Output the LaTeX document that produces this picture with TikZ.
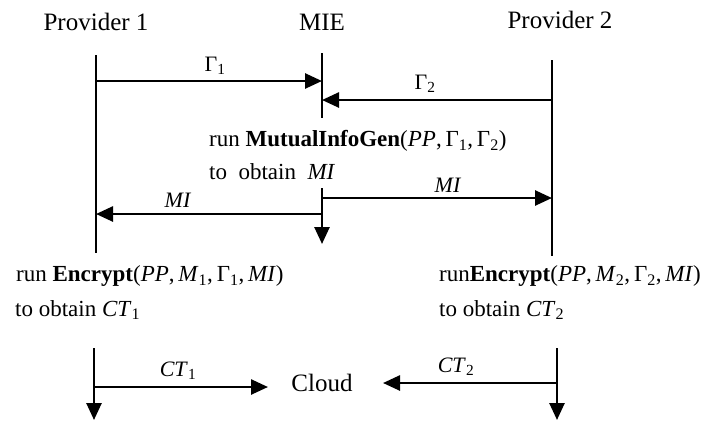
\documentclass[tikz,border=0pt]{standalone}
\usepackage{fontspec}
\setmainfont{Liberation Serif}
\usetikzlibrary{arrows.meta}
\newcommand{\sbs}[1]{\textsubscript{#1}}
\begin{document}
\begin{tikzpicture}[x=1pt,y=-1pt,
  lifeline/.style={line width=2.6pt},
  msg/.style={line width=2.6pt,-{Triangle[length=17pt,width=15pt]}},
  hdr/.style={font=\fontsize{25}{29}\selectfont,inner sep=0pt},
  lbl/.style={font=\fontsize{22}{26}\selectfont,inner sep=0pt},
  txt/.style={font=\fontsize{23}{27}\selectfont,inner sep=0pt,anchor=west}]
\useasboundingbox (0,0) rectangle (707,421);
% headers
\node[hdr] (p1) at (96,22) {Provider 1};
\node[hdr] (mie) at (322,22) {MIE};
\node[hdr] (p2) at (560,20) {Provider 2};
% lifelines
\coordinate (p1top) at (96,55);
\coordinate (p1bot) at (96,253);
\coordinate (mietop) at (322,53);
\coordinate (miebot) at (322,118);
\coordinate (p2top) at (552,60);
\coordinate (p2bot) at (552,256);
\draw[lifeline] (p1top) -- (p1bot);
\draw[lifeline] (mietop) -- (miebot);
\draw[lifeline] (p2top) -- (p2bot);
% Gamma messages
\coordinate (g1s) at (96,81);
\coordinate (g1e) at (322,81);
\draw[msg] (g1s) -- (g1e);
\node[lbl] (g1l) at (215,66) {Γ\sbs{1}};
\coordinate (g2s) at (552,100);
\coordinate (g2e) at (322,100);
\draw[msg] (g2s) -- (g2e);
\node[lbl] (g2l) at (425,84) {Γ\sbs{2}};
% MIE computation
\node[txt] (run1) at (209,141) {run \textbf{MutualInfoGen}(\textit{PP},\,Γ\sbs{1},\,Γ\sbs{2})};
\node[txt] (obt1) at (209,172) {to\ \ obtain\ \ \textit{MI}};
\coordinate (mie2top) at (322,188);
\coordinate (mie2bot) at (322,244);
\draw[msg] (mie2top) -- (mie2bot);
\coordinate (mir) at (552,198);
\coordinate (mirs) at (322,198);
\draw[msg] (mirs) -- (mir);
\node[lbl] (mirl) at (448,185) {\textit{MI}};
\coordinate (mils) at (322,214);
\coordinate (mil) at (96,214);
\draw[msg] (mils) -- (mil);
\node[lbl] (mill) at (178,200) {\textit{MI}};
% encryption
\node[txt] (enc1) at (16,276) {run \textbf{Encrypt}(\textit{PP},\,\textit{M}\sbs{1},\,Γ\sbs{1},\,\textit{MI})};
\node[txt] (obt2) at (15,310) {to obtain \textit{CT}\sbs{1}};
\node[txt] (enc2) at (439,276) {run\textbf{Encrypt}(\textit{PP},\,\textit{M}\sbs{2},\,Γ\sbs{2},\,\textit{MI})};
\node[txt] (obt3) at (439,310) {to obtain \textit{CT}\sbs{2}};
% cloud
\node[hdr] (cloud) at (322,383) {Cloud};
\coordinate (p1b2top) at (94,348);
\coordinate (p1b2bot) at (94,420);
\draw[msg] (p1b2top) -- (p1b2bot);
\coordinate (ct1s) at (94,387);
\coordinate (ct1e) at (268,387);
\draw[msg] (ct1s) -- (ct1e);
\node[lbl] (ct1l) at (178,371) {\textit{CT}\sbs{1}};
\coordinate (p2b2top) at (557,348);
\coordinate (p2b2bot) at (557,420);
\draw[msg] (p2b2top) -- (p2b2bot);
\coordinate (ct2s) at (557,383);
\coordinate (ct2e) at (383,383);
\draw[msg] (ct2s) -- (ct2e);
\node[lbl] (ct2l) at (456,367) {\textit{CT}\sbs{2}};
\end{tikzpicture}
\end{document}
